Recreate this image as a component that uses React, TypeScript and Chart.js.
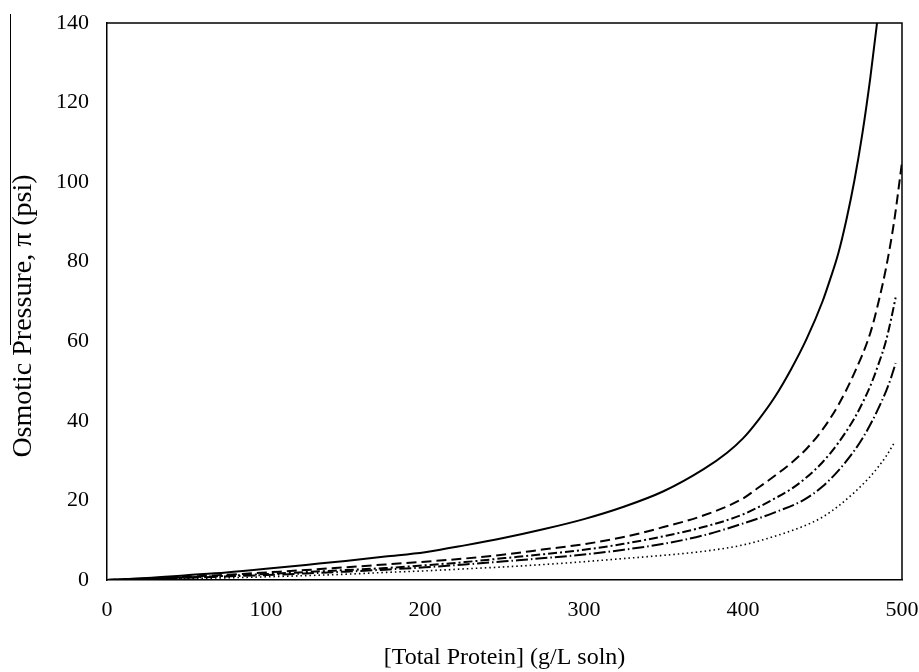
import React, { useEffect, useRef } from "react";
import { Chart, registerables } from "chart.js";

Chart.register(...registerables);

// [Total Protein] (g/L soln) and Osmotic Pressure (psi) for each curve
const solidX = [0, 25, 50, 75, 100, 125, 150, 175, 200, 225, 250, 275, 300, 325, 350, 375, 390, 400, 410, 420, 430, 440, 450, 455, 460, 465, 470, 475, 480, 484, 487];
const solidY = [0, 0.5, 1.2, 1.9, 2.8, 3.8, 4.8, 5.9, 7.0, 8.7, 10.6, 12.8, 15.3, 18.4, 22.3, 27.8, 32, 35.6, 40.4, 46, 52.8, 60.6, 70, 75.8, 82.2, 90.5, 100.3, 112, 126, 139, 150];

const dashedX = [0, 25, 50, 75, 100, 125, 150, 175, 200, 225, 250, 275, 300, 325, 350, 375, 400, 410, 420, 430, 440, 450, 460, 470, 480, 485, 490, 495, 500];
const dashedY = [0, 0.35, 0.8, 1.3, 1.9, 2.5, 3.2, 3.9, 4.6, 5.4, 6.4, 7.7, 9.0, 10.8, 13.3, 16.2, 20.5, 23.3, 26.2, 29.3, 33, 37.8, 44, 52, 62, 69.5, 78.5, 90, 105];

const dashDotX = [0, 25, 50, 75, 100, 125, 150, 175, 200, 225, 250, 275, 300, 325, 350, 375, 400, 420, 430, 440, 450, 460, 470, 475, 480, 485, 490, 493, 496];
const dashDotY = [0, 0.3, 0.65, 1.05, 1.5, 2.0, 2.5, 3.0, 3.7, 4.5, 5.5, 6.5, 7.6, 9.1, 11, 13.3, 16.5, 20.5, 22.8, 25.8, 29.6, 34.5, 40.6, 44.4, 48.7, 54, 60.2, 65.3, 71];

const dashDotDotX = [0, 25, 50, 75, 100, 125, 150, 175, 200, 225, 250, 275, 300, 325, 350, 375, 400, 420, 438, 450, 460, 470, 475, 480, 485, 490, 493, 496];
const dashDotDotY = [0, 0.25, 0.55, 0.9, 1.25, 1.65, 2.1, 2.6, 3.2, 3.9, 4.7, 5.5, 6.4, 7.6, 9.1, 11.2, 14.2, 17, 20.1, 23.5, 27.5, 32.5, 35.5, 39, 43, 47.5, 50.7, 54.5];

const dottedX = [0, 25, 50, 75, 100, 125, 150, 175, 200, 225, 250, 275, 300, 325, 350, 375, 400, 420, 436, 450, 460, 470, 480, 485, 490, 495];
const dottedY = [0, 0.15, 0.35, 0.55, 0.8, 1.1, 1.45, 1.9, 2.3, 2.8, 3.3, 3.9, 4.6, 5.4, 6.2, 7.2, 8.8, 11, 13.2, 15.8, 18.6, 22, 26, 28.4, 31.1, 34.4];

const xTicks = [0, 100, 200, 300, 400, 500];
const yTicks = [0, 20, 40, 60, 80, 100, 120, 140];

const xTitle = "[Total Protein] (g/L soln)";
const yTitle = "Osmotic Pressure, \u03c0 (psi)";

const pts = (xs: number[], ys: number[]) => xs.map((x, i) => ({ x, y: ys[i] }));

const FONT = "'Liberation Serif', 'Times New Roman', serif";

const framePlugin = {
  id: "frame",
  afterDraw(chart: any) {
    const { ctx, chartArea } = chart;
    ctx.save();
    ctx.strokeStyle = "#000";
    ctx.lineWidth = 1.5;
    ctx.beginPath();
    ctx.moveTo(chartArea.left, chartArea.top);
    ctx.lineTo(chartArea.right, chartArea.top);
    ctx.lineTo(chartArea.right, chartArea.bottom);
    ctx.stroke();
    // thin stray rule at the far left of the figure
    ctx.lineWidth = 1;
    ctx.beginPath();
    ctx.moveTo(10.5, 14);
    ctx.lineTo(10.5, 345);
    ctx.stroke();
    // y-axis title
    ctx.fillStyle = "#000";
    ctx.font = `28px ${FONT}`;
    ctx.textAlign = "center";
    ctx.textBaseline = "middle";
    ctx.translate(24, 316);
    ctx.rotate(-Math.PI / 2);
    ctx.fillText(yTitle, 0, 0);
    ctx.restore();
  },
};

export default function App() {
  const ref = useRef<HTMLCanvasElement | null>(null);
  useEffect(() => {
    if (!ref.current) return;
    const common = {
      borderColor: "#000",
      backgroundColor: "#000",
      pointRadius: 0,
      showLine: true,
      fill: false,
      cubicInterpolationMode: "monotone" as const,
    };
    const chart = new Chart(ref.current, {
      type: "scatter",
      data: {
        datasets: [
          { ...common, label: "a", data: pts(solidX, solidY), borderWidth: 2 },
          { ...common, label: "b", data: pts(dashedX, dashedY), borderWidth: 2, borderDash: [10, 5] },
          { ...common, label: "c", data: pts(dashDotX, dashDotY), borderWidth: 2, borderDash: [9, 3, 2, 3] },
          { ...common, label: "d", data: pts(dashDotDotX, dashDotDotY), borderWidth: 2, borderDash: [12, 3, 1.5, 3] },
          { ...common, label: "e", data: pts(dottedX, dottedY), borderWidth: 1.6, borderDash: [1.5, 3] },
        ],
      },
      options: {
        animation: false,
        responsive: false,
        maintainAspectRatio: false,
        layout: { padding: { top: 23, right: 17, left: 0, bottom: 0 } },
        plugins: { legend: { display: false }, tooltip: { enabled: false } },
        scales: {
          x: {
            type: "linear",
            min: 0,
            max: 500,
            afterBuildTicks: (s: any) => { s.ticks = xTicks.map((v) => ({ value: v })); },
            afterFit: (s: any) => { s.height = 92; s.paddingLeft = 0; s.paddingRight = 0; },
            grid: { display: false, drawOnChartArea: false, drawTicks: true, tickLength: 8, tickWidth: 1.5, tickColor: "#000" },
            border: { display: true, color: "#000", width: 1.5 },
            ticks: { color: "#000", font: { family: FONT, size: 22 }, padding: 9 },
            title: { display: true, text: xTitle, color: "#000", font: { family: FONT, size: 24 }, padding: { top: 4, bottom: 0 } },
          },
          y: {
            type: "linear",
            min: 0,
            max: 140,
            afterBuildTicks: (s: any) => { s.ticks = yTicks.map((v) => ({ value: v })); },
            afterFit: (s: any) => { s.width = 107; s.paddingTop = 0; s.paddingBottom = 0; },
            grid: { display: false, drawOnChartArea: false, drawTicks: true, tickLength: 8, tickWidth: 1.5, tickColor: "#000" },
            border: { display: true, color: "#000", width: 1.5 },
            ticks: { color: "#000", font: { family: FONT, size: 22 }, padding: 10 },
            title: { display: false, text: yTitle },
          },
        },
      },
      plugins: [framePlugin],
    } as any);
    return () => chart.destroy();
  }, []);
  return (
    <div style={{ position: "fixed", left: 0, top: 0, width: 919, height: 672, background: "#fff" }}>
      <canvas ref={ref} width={919} height={672} style={{ display: "block", width: 919, height: 672 }} />
    </div>
  );
}
